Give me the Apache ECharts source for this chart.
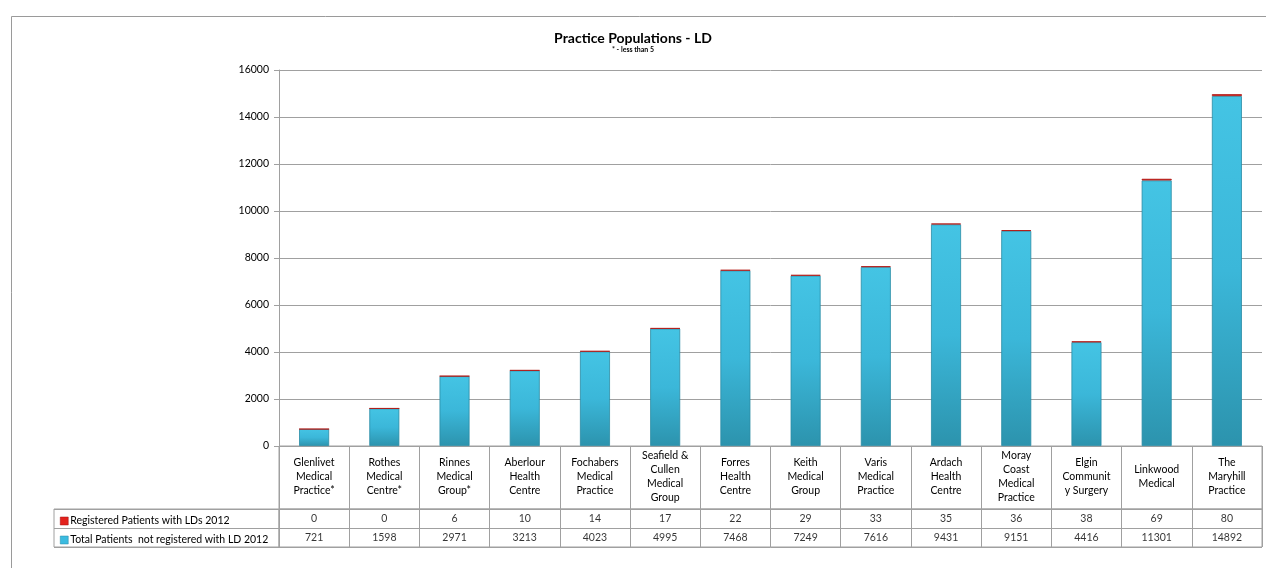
<!DOCTYPE html>
<html>
<head>
<meta charset="utf-8">
<script src="https://cdn.jsdelivr.net/npm/echarts@6/dist/echarts.min.js"></script>
<style>
html,body{margin:0;padding:0;background:#fff;}
#chart{width:1266px;height:568px;}
</style>
</head>
<body>
<div id="chart"></div>
<script>
const categories = [
  "Glenlivet\nMedical\nPractice*",
  "Rothes\nMedical\nCentre*",
  "Rinnes\nMedical\nGroup*",
  "Aberlour\nHealth\nCentre",
  "Fochabers\nMedical\nPractice",
  "Seafield &\nCullen\nMedical\nGroup",
  "Forres\nHealth\nCentre",
  "Keith\nMedical\nGroup",
  "Varis\nMedical\nPractice",
  "Ardach\nHealth\nCentre",
  "Moray\nCoast\nMedical\nPractice",
  "Elgin\nCommunit\ny Surgery",
  "Linkwood\nMedical",
  "The\nMaryhill\nPractice"
];
const registered = [0, 0, 6, 10, 14, 17, 22, 29, 33, 35, 36, 38, 69, 80];
const notRegistered = [721, 1598, 2971, 3213, 4023, 4995, 7468, 7249, 7616, 9431, 9151, 4416, 11301, 14892];
const seriesNames = ["Registered Patients with LDs 2012", "Total Patients  not registered with LD 2012"];
const yTicks = { min: 0, max: 16000, interval: 2000 };

const FONT = "Lato";
const LINE = "#a0a0a0";
const chart = echarts.init(document.getElementById('chart'));

const blueGrad = new echarts.graphic.LinearGradient(0, 0, 0, 1, [
  { offset: 0, color: '#44c4e4' },
  { offset: 0.5, color: '#3bb7d9' },
  { offset: 1, color: '#2c93ad' }
]);
const redGrad = new echarts.graphic.LinearGradient(0, 0, 0, 1, [
  { offset: 0, color: '#e8332d' },
  { offset: 1, color: '#c01a16' }
]);

function tableData(arr, row) { return arr.map((v, i) => [i, row, v]); }

const option = {
  animation: false,
  textStyle: { fontFamily: FONT },
  graphic: [{
    type: 'rect', left: 9, top: 14, silent: true,
    shape: { width: 1400, height: 700 },
    style: { fill: 'none', stroke: '#9a9a9a', lineWidth: 1 }
  }],
  title: {
    text: 'Practice Populations - LD',
    subtext: '* - less than 5',
    left: 'center', top: 26, itemGap: 1,
    textStyle: { fontFamily: FONT, fontSize: 14, fontWeight: 'bold', color: '#000' },
    subtextStyle: { fontFamily: FONT, fontSize: 7, fontWeight: 'bold', color: '#000' }
  },
  legend: {
    orient: 'vertical', left: 55, top: 510, itemGap: 7,
    itemWidth: 8, itemHeight: 8, icon: 'rect',
    textStyle: { fontFamily: FONT, fontSize: 10.5, color: '#000', lineHeight: 12, padding: [0, 0, 0, -3] },
    data: [
      { name: seriesNames[0], itemStyle: { color: '#e3221d', borderColor: '#a01010', borderWidth: 0.5 } },
      { name: seriesNames[1], itemStyle: { color: '#3bbbe0', borderColor: '#2a8aa6', borderWidth: 0.5 } }
    ],
    selectedMode: false
  },
  grid: [
    { left: 279, right: 4, top: 70, height: 376 },
    { left: 279, right: 4, top: 446, height: 63, show: true, borderColor: LINE, borderWidth: 1 },
    { left: 279, right: 4, top: 509, height: 38, show: true, borderColor: LINE, borderWidth: 1 },
    { left: 54, width: 225, top: 509, height: 38, show: true, borderColor: LINE, borderWidth: 1 }
  ],
  xAxis: [
    {
      type: 'category', gridIndex: 0, data: categories,
      axisLine: { lineStyle: { color: LINE } }, axisTick: { show: false },
      axisLabel: { interval: 0, margin: 31, verticalAlign: 'middle', fontFamily: FONT, fontSize: 10.5, lineHeight: 14, color: '#000', align: 'center' }
    },
    {
      type: 'category', gridIndex: 1, data: categories,
      axisLine: { show: false }, axisTick: { show: false }, axisLabel: { show: false },
      splitLine: { show: true, interval: 0, lineStyle: { color: LINE } }
    },
    {
      type: 'category', gridIndex: 2, data: categories,
      axisLine: { show: false }, axisTick: { show: false }, axisLabel: { show: false },
      splitLine: { show: true, interval: 0, lineStyle: { color: LINE } }
    },
    {
      type: 'category', gridIndex: 3, data: ['legend'],
      axisLine: { show: false }, axisTick: { show: false }, axisLabel: { show: false }
    }
  ],
  yAxis: [
    {
      type: 'value', gridIndex: 0, min: yTicks.min, max: yTicks.max, interval: yTicks.interval,
      axisLine: { show: true, lineStyle: { color: LINE } },
      axisTick: { show: true, length: 5, lineStyle: { color: LINE } },
      axisLabel: { fontFamily: FONT, fontSize: 10.5, color: '#000', margin: 10, formatter: v => String(v) },
      splitLine: { lineStyle: { color: LINE } }
    },
    {
      type: 'value', gridIndex: 1, show: false
    },
    {
      type: 'category', gridIndex: 2, data: seriesNames, inverse: true,
      axisLine: { show: false }, axisTick: { show: false }, axisLabel: { show: false },
      splitLine: { show: true, interval: 0, lineStyle: { color: LINE } }
    },
    {
      type: 'category', gridIndex: 3, data: seriesNames, inverse: true,
      axisLine: { show: false }, axisTick: { show: false }, axisLabel: { show: false },
      splitLine: { show: true, interval: 0, lineStyle: { color: LINE } }
    }
  ],
  series: [
    {
      name: seriesNames[1], type: 'bar', stack: 'total', xAxisIndex: 0, yAxisIndex: 0,
      barWidth: 30, data: notRegistered,
      itemStyle: { color: blueGrad, borderColor: '#2a8ba5', borderWidth: 0.8 }
    },
    {
      name: seriesNames[0], type: 'bar', stack: 'total', xAxisIndex: 0, yAxisIndex: 0,
      barWidth: 30, data: registered,
      itemStyle: { color: redGrad, borderColor: '#b01512', borderWidth: 0.8 }
    },
    {
      name: 'tableRegistered', type: 'scatter', xAxisIndex: 2, yAxisIndex: 2,
      symbolSize: 1, itemStyle: { color: 'rgba(0,0,0,0)' },
      data: tableData(registered, 0),
      label: { show: true, position: 'inside', formatter: p => String(p.value[2]), color: '#000', fontFamily: FONT, fontSize: 10.5 }
    },
    {
      name: 'tableTotal', type: 'scatter', xAxisIndex: 2, yAxisIndex: 2,
      symbolSize: 1, itemStyle: { color: 'rgba(0,0,0,0)' },
      data: tableData(notRegistered, 1),
      label: { show: true, position: 'inside', formatter: p => String(p.value[2]), color: '#000', fontFamily: FONT, fontSize: 10.5 }
    }
  ]
};
chart.setOption(option);
</script>
</body>
</html>
